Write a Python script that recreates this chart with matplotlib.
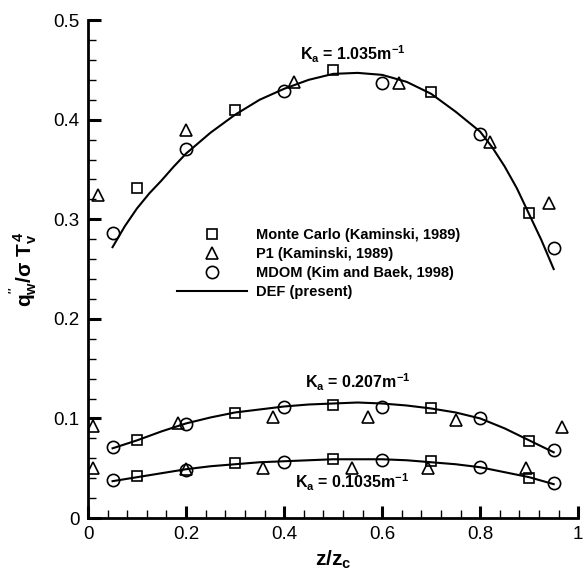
import matplotlib
matplotlib.use("Agg")
import matplotlib.pyplot as plt
from matplotlib.ticker import MultipleLocator

plt.rcParams['font.family'] = ['Liberation Sans', 'DejaVu Sans']
plt.rcParams['mathtext.fontset'] = 'custom'
plt.rcParams['mathtext.rm'] = 'Liberation Sans:bold'
plt.rcParams['mathtext.it'] = 'Liberation Sans:bold'
plt.rcParams['mathtext.bf'] = 'Liberation Sans:bold'

# wall heat flux along the enclosure height, three absorption coefficients
# Ka = 1.035 m^-1
mc_x_hi = [0.1, 0.3, 0.5, 0.7, 0.9]
mc_y_hi = [0.331, 0.410, 0.450, 0.428, 0.306]
p1_x_hi = [0.02, 0.2, 0.42, 0.635, 0.82, 0.94]
p1_y_hi = [0.324, 0.390, 0.438, 0.437, 0.378, 0.316]
mdom_x_hi = [0.05, 0.2, 0.4, 0.6, 0.8, 0.95]
mdom_y_hi = [0.286, 0.371, 0.429, 0.437, 0.386, 0.271]

# Ka = 0.207 m^-1
mc_x_mid = [0.1, 0.3, 0.5, 0.7, 0.9]
mc_y_mid = [0.078, 0.105, 0.113, 0.110, 0.077]
p1_x_mid = [0.01, 0.184, 0.378, 0.571, 0.751, 0.967]
p1_y_mid = [0.092, 0.095, 0.101, 0.101, 0.098, 0.091]
mdom_x_mid = [0.05, 0.2, 0.4, 0.6, 0.8, 0.95]
mdom_y_mid = [0.071, 0.094, 0.111, 0.111, 0.100, 0.068]

# Ka = 0.1035 m^-1
mc_x_lo = [0.1, 0.3, 0.5, 0.7, 0.9]
mc_y_lo = [0.042, 0.055, 0.059, 0.057, 0.040]
p1_x_lo = [0.01, 0.2, 0.357, 0.539, 0.694, 0.894]
p1_y_lo = [0.050, 0.049, 0.050, 0.050, 0.050, 0.050]
mdom_x_lo = [0.05, 0.2, 0.4, 0.6, 0.8, 0.95]
mdom_y_lo = [0.038, 0.048, 0.056, 0.058, 0.051, 0.035]

# DEF (present) solution
def_x_hi = [0.05, 0.075, 0.10, 0.125, 0.15, 0.175, 0.20, 0.25, 0.30, 0.35, 0.40, 0.45,
            0.50, 0.55, 0.60, 0.65, 0.70, 0.75, 0.80, 0.825, 0.85, 0.875, 0.90, 0.925, 0.95]
def_y_hi = [0.272, 0.293, 0.311, 0.326, 0.339, 0.353, 0.366, 0.387, 0.405, 0.420, 0.431, 0.440,
            0.446, 0.447, 0.445, 0.438, 0.426, 0.408, 0.388, 0.372, 0.353, 0.331, 0.305, 0.279, 0.250]
def_x = [0.05, 0.10, 0.15, 0.20, 0.25, 0.30, 0.35, 0.40, 0.45, 0.50,
         0.55, 0.60, 0.65, 0.70, 0.75, 0.80, 0.85, 0.90, 0.95]
def_y_mid = [0.070, 0.078, 0.087, 0.095, 0.101, 0.106, 0.109, 0.112, 0.114, 0.115,
             0.116, 0.115, 0.113, 0.110, 0.106, 0.100, 0.090, 0.078, 0.066]
def_y_lo = [0.037, 0.041, 0.045, 0.049, 0.052, 0.054, 0.056, 0.057, 0.058, 0.059,
            0.059, 0.059, 0.058, 0.056, 0.054, 0.051, 0.046, 0.041, 0.034]

x_ticks = [0, 0.2, 0.4, 0.6, 0.8, 1.0]
x_tick_labels = ['0', '0.2', '0.4', '0.6', '0.8', '1']
y_ticks = [0, 0.1, 0.2, 0.3, 0.4, 0.5]
y_tick_labels = ['0', '0.1', '0.2', '0.3', '0.4', '0.5']

labels = ['Monte Carlo (Kaminski, 1989)', 'P1 (Kaminski, 1989)',
          'MDOM (Kim and Baek, 1998)', 'DEF (present)']
ka_labels = [r'K$_a$ = 1.035m$^{-1}$', r'K$_a$ = 0.207m$^{-1}$',
             r'K$_a$ = 0.1035m$^{-1}$']


def plotCase(ax, mc_x, mc_y, p1_x, p1_y, mdom_x, mdom_y, line_x, line_y):
  mk = dict(linestyle='none', color='black', markerfacecolor='none', markeredgewidth=1.2)
  l1, = ax.plot(mc_x, mc_y, marker='s', markersize=7.2, **mk)
  l2, = ax.plot(p1_x, p1_y, marker='^', markersize=8, **mk)
  l3, = ax.plot(mdom_x, mdom_y, marker='o', markersize=8.8, **mk)
  l4, = ax.plot(line_x, line_y, color='black', linewidth=1.5)
  return [l1, l2, l3, l4]


fig = plt.figure(figsize=(5.87, 5.81), dpi=100)
ax = fig.add_axes([0.150, 0.1084, 0.835, 0.857])

handles = plotCase(ax, mc_x_hi, mc_y_hi, p1_x_hi, p1_y_hi, mdom_x_hi, mdom_y_hi, def_x_hi, def_y_hi)
plotCase(ax, mc_x_mid, mc_y_mid, p1_x_mid, p1_y_mid, mdom_x_mid, mdom_y_mid, def_x, def_y_mid)
plotCase(ax, mc_x_lo, mc_y_lo, p1_x_lo, p1_y_lo, mdom_x_lo, mdom_y_lo, def_x, def_y_lo)

ax.set_xlim(0, 1)
ax.set_ylim(0, 0.5)

# only left and bottom axes, ticks pointing inwards
ax.spines['top'].set_visible(False)
ax.spines['right'].set_visible(False)
ax.spines['left'].set_linewidth(2)
ax.spines['bottom'].set_linewidth(2)
ax.set_xticks(x_ticks)
ax.set_xticklabels(x_tick_labels)
ax.set_yticks(y_ticks)
ax.set_yticklabels(y_tick_labels)
ax.xaxis.set_minor_locator(MultipleLocator(0.04))
ax.yaxis.set_minor_locator(MultipleLocator(0.02))
ax.tick_params(which='major', direction='in', length=9, width=2.2, labelsize=13.5, pad=6)
ax.tick_params(which='minor', direction='in', length=5.5, width=1)

ax.set_xlabel(r'$z/z_c$', fontsize=15, labelpad=4)
ax.set_ylabel(r"$q^{''}_w/\sigma\ T_v^4$", fontsize=15, labelpad=10)

# absorption coefficient annotations
ax.text(0.54, 0.46, ka_labels[0], fontsize=11.5, fontweight='bold', ha='center', va='baseline')
ax.text(0.551, 0.1305, ka_labels[1], fontsize=11.5, fontweight='bold', ha='center', va='baseline')
ax.text(0.539, 0.030, ka_labels[2], fontsize=11.5, fontweight='bold', ha='center', va='baseline')

leg = ax.legend(handles, labels, loc='upper left', bbox_to_anchor=(0.182, 0.582),
                frameon=False, borderpad=0, borderaxespad=0, handlelength=4.8,
                handletextpad=0.6, labelspacing=0.33, prop={'weight': 'bold', 'size': 10.5})

plt.savefig("out.png", dpi=100)
